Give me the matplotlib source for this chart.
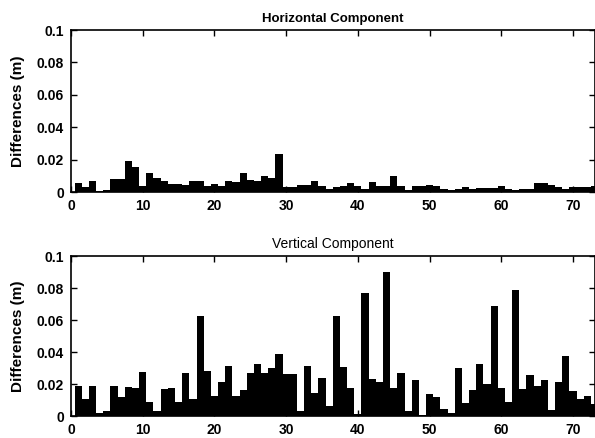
import matplotlib
matplotlib.use('Agg')
import matplotlib.pyplot as plt
import numpy as np

plt.rcParams['font.family'] = ['Liberation Sans', 'DejaVu Sans']

# epoch index 1..73
epochs = np.arange(1, 74)

# horizontal component differences (m)
horizontal = [0.0055, 0.003, 0.0065, 0.0004, 0.001, 0.008, 0.008, 0.0192, 0.0157, 0.0035,
              0.012, 0.0086, 0.0065, 0.005, 0.005, 0.0045, 0.007, 0.007, 0.0035, 0.005,
              0.004, 0.007, 0.006, 0.0116, 0.0075, 0.0065, 0.010, 0.0084, 0.0235, 0.003,
              0.003, 0.0045, 0.0045, 0.0065, 0.0038, 0.002, 0.003, 0.0035, 0.0057, 0.004,
              0.002, 0.0063, 0.004, 0.004, 0.010, 0.004, 0.001, 0.0035, 0.0035, 0.0045,
              0.0035, 0.002, 0.001, 0.002, 0.003, 0.002, 0.0025, 0.0025, 0.0025, 0.004,
              0.002, 0.0015, 0.002, 0.002, 0.0055, 0.0055, 0.0045, 0.003, 0.002, 0.003,
              0.003, 0.003, 0.004]

# vertical component differences (m)
vertical = [0.019, 0.0108, 0.019, 0.002, 0.003, 0.019, 0.0118, 0.018, 0.0176, 0.0274,
            0.009, 0.003, 0.017, 0.0178, 0.009, 0.0267, 0.0108, 0.0626, 0.028, 0.0124,
            0.0215, 0.0315, 0.0124, 0.0164, 0.027, 0.0325, 0.027, 0.030, 0.0388, 0.026,
            0.0263, 0.003, 0.031, 0.0145, 0.0236, 0.0062, 0.0626, 0.0307, 0.0174, 0.0015,
            0.0767, 0.023, 0.0215, 0.090, 0.0174, 0.027, 0.003, 0.0222, 0.0005, 0.0135,
            0.0118, 0.0044, 0.002, 0.030, 0.0083, 0.016, 0.0325, 0.020, 0.0688, 0.0174,
            0.009, 0.079, 0.0166, 0.0257, 0.019, 0.0228, 0.0035, 0.021, 0.0375, 0.0155,
            0.0108, 0.0128, 0.0073]

yticks = [0, 0.02, 0.04, 0.06, 0.08, 0.1]
ytick_labels = ['0', '0.02', '0.04', '0.06', '0.08', '0.1']
xticks = [0, 10, 20, 30, 40, 50, 60, 70]

fig = plt.figure(figsize=(5.95, 4.38), dpi=100)
ax1 = fig.add_axes([0.1193, 0.5616, 0.880, 0.3699])
ax2 = fig.add_axes([0.1193, 0.0502, 0.880, 0.3653])

panels = [(ax1, horizontal, 'Horizontal Component', 'bold', 9.5),
          (ax2, vertical, 'Vertical Component', 'normal', 10)]

for ax, vals, title, tw, ts in panels:
    ax.bar(epochs, vals, width=1.0, color='black', edgecolor='black', linewidth=0)
    ax.set_xlim(0, 73)
    ax.set_ylim(0, 0.1)
    ax.set_xticks(xticks)
    ax.set_yticks(yticks)
    ax.set_yticklabels(ytick_labels)
    ax.tick_params(direction='in', top=True, right=True, length=4, width=1,
                   labelsize=10, pad=5)
    for lab in ax.get_xticklabels() + ax.get_yticklabels():
        lab.set_fontweight('bold')
    for sp in ax.spines.values():
        sp.set_linewidth(1.2)
    ax.set_title(title, fontsize=ts, fontweight=tw, pad=6)
    ax.set_ylabel('Differences (m)', fontsize=11, fontweight='bold')
    ax.yaxis.set_label_coords(-0.087, 0.5)

fig.savefig('out.png', dpi=100)
